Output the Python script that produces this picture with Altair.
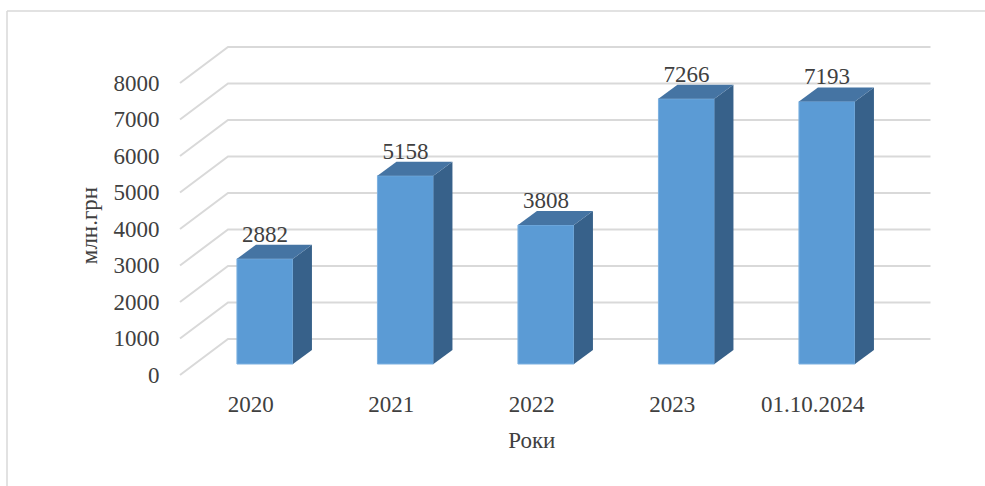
import json
import altair as alt
import pandas as pd

# Data
categories = ["2020", "2021", "2022", "2023", "01.10.2024"]
values = [2882, 5158, 3808, 7266, 7193]
y_ticks = [0, 1000, 2000, 3000, 4000, 5000, 6000, 7000, 8000]

# Geometry of the pseudo-3D plot (pixel sizes converted to data units)
Y_MAX = 8000
PLOT_W = 702.5
PLOT_H = 292
STEP_PX = PLOT_W / len(categories)
PX_PER_UNIT = PLOT_H / Y_MAX


def dx(px):
    return px / STEP_PX


def dv(px):
    return px / PX_PER_UNIT


BAR_HALF = dx(28)
FACE_DX, FACE_DV = dx(14.7), dv(11)   # bar front face sits this deep in the floor
SIDE_DX, SIDE_DV = dx(19), dv(14)     # bar depth
WALL_DX, WALL_DV = dx(48), dv(36)     # back wall depth

FONT = "Times New Roman, Liberation Serif, serif"
TEXT = "#404040"
GRID = "#d9d9d9"

x_scale = alt.Scale(domain=[-0.5, len(categories) - 0.5], nice=False, zero=False)
y_scale = alt.Scale(domain=[0, Y_MAX], nice=False, zero=False)

x_axis = alt.Axis(
    values=list(range(len(categories))),
    labelExpr=f"{json.dumps(categories)}[datum.value]",
    title="Роки",
    ticks=False, domain=False, grid=False,
    labelFont=FONT, labelFontSize=23, labelColor=TEXT, labelPadding=18,
    labelOverlap=False, labelFlush=False,
    titleFont=FONT, titleFontSize=23, titleColor=TEXT, titleFontWeight="normal",
    titlePadding=13,
)
y_axis = alt.Axis(
    values=y_ticks,
    format="d",
    title="млн.грн",
    ticks=False, domain=False, grid=False,
    labelFont=FONT, labelFontSize=23, labelColor=TEXT, labelPadding=21,
    titleFont=FONT, titleFontSize=23, titleColor=TEXT, titleFontWeight="normal",
    titleX=-91, titleY=142, titleAlign="center", titleBaseline="middle",
)


def X(field):
    return alt.X(f"{field}:Q", scale=x_scale, axis=x_axis, title="Роки")


def Y(field):
    return alt.Y(f"{field}:Q", scale=y_scale, axis=y_axis, title="млн.грн")


# Side wall + back wall gridlines
grid_rows = []
for t in y_ticks:
    grid_rows.append({"tick": t, "seq": 0, "gx": -0.5, "gy": t})
    grid_rows.append({"tick": t, "seq": 1, "gx": -0.5 + WALL_DX, "gy": t + WALL_DV})
    grid_rows.append({"tick": t, "seq": 2, "gx": len(categories) - 0.5 + WALL_DX, "gy": t + WALL_DV})
grid_df = pd.DataFrame(grid_rows)

grid = alt.Chart(grid_df).mark_line(color=GRID, strokeWidth=2).encode(
    x=X("gx"), y=Y("gy"), detail="tick:N", order="seq:Q"
)

# Bars: front face, side face, top face
front_rows, side_rows, top_rows, label_rows = [], [], [], []
for i, (c, v) in enumerate(zip(categories, values)):
    x0 = i + FACE_DX - BAR_HALF
    x1 = i + FACE_DX + BAR_HALF
    base = FACE_DV
    top = v + FACE_DV
    front_rows.append({"bar": c, "x0": x0, "x1": x1, "yb": base, "yt": top})
    side_rows += [
        {"bar": c, "px": x1, "hi": top, "lo": base},
        {"bar": c, "px": x1 + SIDE_DX, "hi": top + SIDE_DV, "lo": base + SIDE_DV},
    ]
    top_rows += [
        {"bar": c, "px": x0, "hi": top, "lo": top},
        {"bar": c, "px": x0 + SIDE_DX, "hi": top + SIDE_DV, "lo": top},
        {"bar": c, "px": x1, "hi": top + SIDE_DV, "lo": top},
        {"bar": c, "px": x1 + SIDE_DX, "hi": top + SIDE_DV, "lo": top + SIDE_DV},
    ]
    label_rows.append({"bar": c, "lx": i + FACE_DX, "ly": top + SIDE_DV, "value": v})

front = alt.Chart(pd.DataFrame(front_rows)).mark_rect(
    color="#5b9bd5", stroke="#7cb0e0", strokeWidth=1
).encode(x=X("x0"), x2="x1:Q", y=Y("yb"), y2="yt:Q")

side = alt.Chart(pd.DataFrame(side_rows)).mark_area(
    color="#37618a", orient="vertical"
).encode(x=X("px"), y=Y("hi"), y2="lo:Q", detail="bar:N")

top_face = alt.Chart(pd.DataFrame(top_rows)).mark_area(
    color="#4574a3", orient="vertical"
).encode(x=X("px"), y=Y("hi"), y2="lo:Q", detail="bar:N")

labels = alt.Chart(pd.DataFrame(label_rows)).mark_text(
    font=FONT, fontSize=23, color=TEXT, baseline="bottom", dy=2
).encode(x=X("lx"), y=Y("ly"), text="value:Q")

# Chart frame (top and left edges)
frame_top = alt.Chart(pd.DataFrame({"k": [0]})).mark_rule(color=GRID, strokeWidth=1.5).encode(
    x=alt.value(-173), x2=alt.value(805), y=alt.value(-72)
)
frame_left = alt.Chart(pd.DataFrame({"k": [0]})).mark_rule(color=GRID, strokeWidth=1.5).encode(
    x=alt.value(-173), y=alt.value(-72), y2=alt.value(403)
)

chart = alt.layer(
    frame_top, frame_left, grid, front, side, top_face, labels
).properties(
    width=PLOT_W,
    height=PLOT_H,
    padding={"left": 180, "top": 83, "right": 102.5, "bottom": 111},
    autosize=alt.AutoSizeParams(type="none"),
    background="white",
).configure_view(stroke=None)

chart.save("out.html", embed_options={"renderer": "svg", "actions": False})
